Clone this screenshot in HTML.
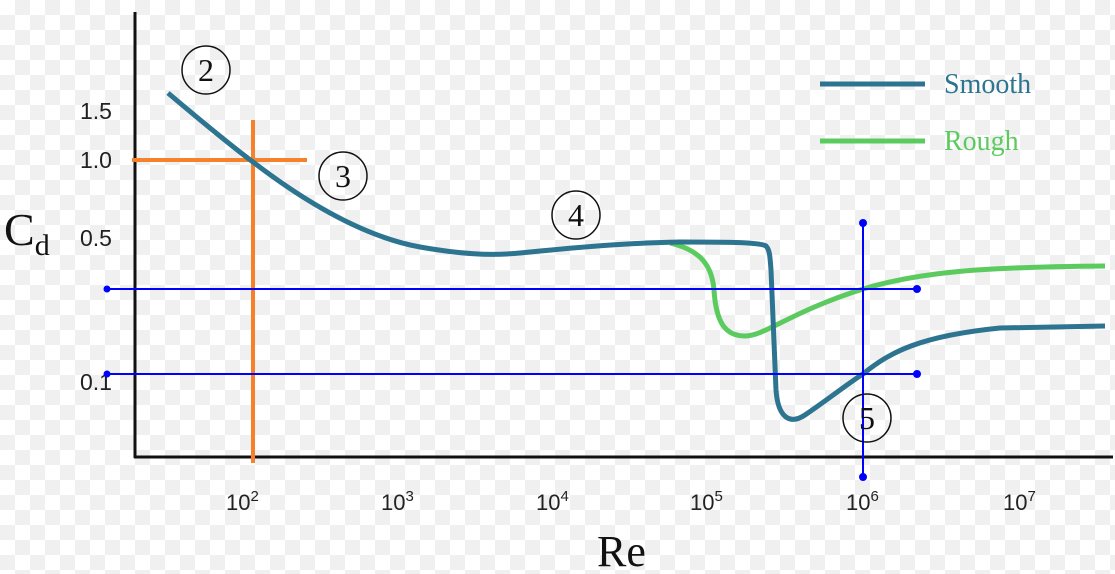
<!DOCTYPE html>
<html><head><style>
html,body{margin:0;padding:0;}
body{width:1115px;height:574px;overflow:hidden;
background-color:#fff;
background-image:linear-gradient(45deg,#f0f0f0 25%,transparent 25%,transparent 75%,#f0f0f0 75%),linear-gradient(45deg,#f0f0f0 25%,transparent 25%,transparent 75%,#f0f0f0 75%);
background-size:30px 30px;background-position:0 0,15px 15px;}
</style></head><body>
<svg width="1115" height="574" xmlns="http://www.w3.org/2000/svg" style="position:absolute;left:0;top:0">
<g font-family="Liberation Sans, sans-serif" font-size="23" fill="#222">
<text x="80" y="119">1.5</text>
<text x="80" y="168">1.0</text>
<text x="80" y="246">0.5</text>
<text x="80" y="390">0.1</text>
</g>
<g font-family="Liberation Sans, sans-serif" font-size="22" fill="#222">
<text x="226" y="510">10<tspan dy="-9" font-size="15">2</tspan></text>
<text x="381" y="510">10<tspan dy="-9" font-size="15">3</tspan></text>
<text x="536" y="510">10<tspan dy="-9" font-size="15">4</tspan></text>
<text x="690" y="510">10<tspan dy="-9" font-size="15">5</tspan></text>
<text x="846" y="510">10<tspan dy="-9" font-size="15">6</tspan></text>
<text x="1003" y="510">10<tspan dy="-9" font-size="15">7</tspan></text>
</g>
<g font-family="Liberation Serif, serif" fill="#111">
<text x="4" y="245" font-size="46">C<tspan dy="10" font-size="30">d</tspan></text>
<text x="597" y="566" font-size="44">Re</text>
</g>
<line x1="135" y1="12" x2="135" y2="458" stroke="#111" stroke-width="3"/>
<line x1="134" y1="457" x2="1113" y2="457" stroke="#111" stroke-width="3"/>
<line x1="132" y1="160" x2="307" y2="160" stroke="#f5822a" stroke-width="4"/>
<line x1="253" y1="120" x2="253" y2="463" stroke="#f5822a" stroke-width="4"/>
<path d="M670,243 C700,250 712,265 714,290 C716,322 725,336 745,336 C765,336 790,312 863,289 C920,272 980,267 1105,266" fill="none" stroke="#5bcb5f" stroke-width="5"/>
<path d="M168,93 C200,120 230,145 253,162 C300,198 360,236 420,247 C460,254 490,256 520,253 C560,249 620,243 680,242 C720,242 760,242 766,246 C770,250 770,258 771,270 L776,390 C778,418 790,425 805,415 C830,398 850,382 863,374 C890,352 920,336 1000,328 L1105,326" fill="none" stroke="#2d7490" stroke-width="5"/>
<g stroke="#0000ff" stroke-width="2" fill="#0000ff">
<line x1="107" y1="289" x2="917" y2="289"/>
<line x1="107" y1="374" x2="917" y2="374"/>
<line x1="863" y1="223" x2="863" y2="477"/>
<circle cx="107" cy="289" r="2.5"/><circle cx="917" cy="289" r="3"/>
<circle cx="107" cy="374" r="2.5"/><circle cx="917" cy="374" r="3"/>
<circle cx="863" cy="223" r="3"/><circle cx="863" cy="477" r="3"/>
</g>
<g fill="none" stroke="#111" stroke-width="1.5">
<circle cx="206" cy="70" r="24"/><circle cx="343" cy="176" r="24"/>
<circle cx="576" cy="215" r="24"/><circle cx="867" cy="418" r="24"/>
</g>
<g font-family="Liberation Serif, serif" font-size="32" fill="#111" text-anchor="middle">
<text x="206" y="81">2</text><text x="343" y="187">3</text>
<text x="576" y="226">4</text><text x="867" y="429">5</text>
</g>
<line x1="820" y1="84" x2="925" y2="84" stroke="#2d7490" stroke-width="5"/>
<line x1="820" y1="141" x2="925" y2="141" stroke="#5bcb5f" stroke-width="5"/>
<text x="944" y="93" font-family="Liberation Serif, serif" font-size="28" fill="#2d7490">Smooth</text>
<text x="944" y="150" font-family="Liberation Serif, serif" font-size="28" fill="#5bcb5f">Rough</text>
</svg>
</body></html>
